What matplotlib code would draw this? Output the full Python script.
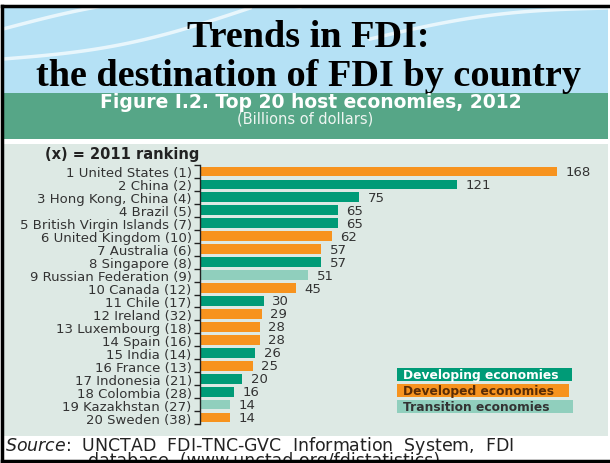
import numpy as np
from matplotlib import pyplot as plt
from matplotlib.patches import Rectangle
from matplotlib.lines import Line2D

countries = ['United States', 'China', 'Hong Kong, China', 'Brazil',
             'British Virgin Islands', 'United Kingdom', 'Australia',
             'Singapore', 'Russian Federation', 'Canada', 'Chile', 'Ireland',
             'Luxembourg', 'Spain', 'India', 'France', 'Indonesia',
             'Colombia', 'Kazakhstan', 'Sweden']
rank2011 = [1, 2, 4, 5, 7, 10, 6, 8, 9, 12, 17, 32, 18, 16, 14, 13, 21, 28, 27, 38]
fdi2012 = [168, 121, 75, 65, 65, 62, 57, 57, 51, 45, 30, 29, 28, 28, 26, 25, 20, 16, 14, 14]
group = ['dvd', 'dvg', 'dvg', 'dvg', 'dvg', 'dvd', 'dvd', 'dvg', 'tr', 'dvd',
         'dvg', 'dvd', 'dvd', 'dvd', 'dvg', 'dvd', 'dvg', 'dvg', 'tr', 'dvd']

colors = {'dvg': '#009b77', 'dvd': '#f7931e', 'tr': '#90cfbd'}

W, H = 610, 464
fig = plt.figure(figsize=(W / 100, H / 100), dpi=100)
fig.patch.set_facecolor('white')


def box(x, y, w, h, color, **kw):
    # rectangle given in pixels from the top-left corner
    fig.patches.append(Rectangle((x / W, 1 - (y + h) / H), w / W, h / H,
                                 transform=fig.transFigure, facecolor=color,
                                 edgecolor='none', **kw))


def txt(x, y, s, **kw):
    fig.text(x / W, 1 - y / H, s, **kw)


# slide background pieces
box(3, 8, 605, 86, '#b5e1f5', zorder=0)
box(3, 94, 605, 46, '#56a687', zorder=0)
box(3, 145, 605, 292, '#dde9e4', zorder=0)

# white swooshes in the header
t = np.linspace(0, 1, 100)
for x0, y0, x1, y1, bend in [(3, 30, 300, 8, 18), (3, 60, 250, 9, -10), (370, 40, 608, 9, 8)]:
    xs = x0 + (x1 - x0) * t
    ys = y0 + (y1 - y0) * t - bend * np.sin(np.pi * t)
    fig.lines.append(Line2D(xs / W, 1 - ys / H, transform=fig.transFigure,
                            color='white', lw=2.5, alpha=0.7, zorder=0.5))

# frame
for xs, ys in [([2, 2], [7, 462]), ([2, 608], [7, 7]), ([2, 608], [462, 462])]:
    fig.lines.append(Line2D(np.array(xs) / W, 1 - np.array(ys) / H,
                            transform=fig.transFigure, color='black', lw=2.5, zorder=5))

txt(308, 47, 'Trends in FDI:', ha='center', va='baseline', fontsize=27.5,
    fontweight='bold', family='Liberation Serif', color='black')
txt(308, 86, 'the destination of FDI by country', ha='center', va='baseline',
    fontsize=27.5, fontweight='bold', family='Liberation Serif', color='black')

txt(311, 108, 'Figure I.2. Top 20 host economies, 2012', ha='center', va='baseline',
    fontsize=13.5, fontweight='bold', color='white')
txt(305, 124, '(Billions of dollars)', ha='center', va='baseline',
    fontsize=10.5, color='#eef5f1')

txt(45, 159, '(x) = 2011 ranking', ha='left', va='baseline', fontsize=10.5,
    fontweight='bold', color='#222222')

# bar chart
ax = fig.add_axes([200 / W, 1 - 425 / H, 400 / W, 259 / H])
ax.set_zorder(2)
ax.set_facecolor('none')
y = np.arange(len(countries))
ax.barh(y, fdi2012, height=0.76, color=[colors[g] for g in group], zorder=2)
for yi, v in zip(y, fdi2012):
    ax.annotate(str(v), (v, yi), xytext=(6, 0), textcoords='offset points',
                va='center', ha='left', fontsize=9.5, color='#333333')
ax.set_xlim(0, 400 / 2.125)
ax.set_ylim(19.5, -0.5)
ax.set_yticks(y)
ax.set_yticklabels(['%d %s (%d)' % (i + 1, c, r) for i, (c, r) in
                    enumerate(zip(countries, rank2011))])
ax.set_yticks(np.arange(-0.5, 20, 1), minor=True)
ax.tick_params(axis='y', which='major', length=0, pad=6, labelsize=9.5,
               labelcolor='#333333')
ax.tick_params(axis='y', which='minor', length=4, width=1, color='#222222')
ax.set_xticks([])
for s in ['top', 'right', 'bottom']:
    ax.spines[s].set_visible(False)
ax.spines['left'].set_color('#222222')
ax.spines['left'].set_linewidth(1)

# legend boxes
legend = [('Developing economies', 'dvg', 'white', 369, 175),
          ('Developed economies', 'dvd', '#5a2c05', 385, 172),
          ('Transition economies', 'tr', '#333333', 401, 176)]
for label, g, tc, ly, lw in legend:
    box(397, ly, lw, 12.5, colors[g], zorder=3)
    txt(403, ly + 6.5, label, ha='left', va='center', fontsize=8.8,
        fontweight='semibold', color=tc, zorder=4)

# source note
txt(5, 451, r'$\mathit{Source}$:  UNCTAD  FDI-TNC-GVC  Information  System,  FDI',
    ha='left', va='baseline', fontsize=12.5, color='#222222')
txt(88, 466, 'database  (www.unctad.org/fdistatistics)', ha='left', va='baseline',
    fontsize=12.5, color='#222222')

fig.savefig('out.png', dpi=100)
